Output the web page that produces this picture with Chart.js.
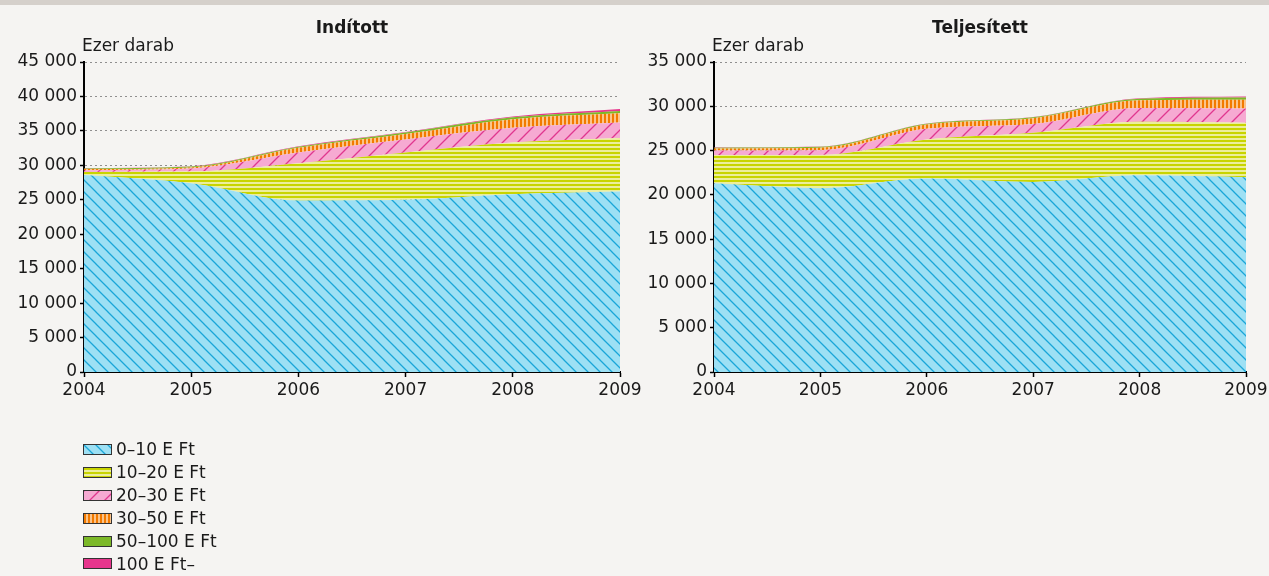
<!DOCTYPE html>
<html lang="hu">
<head>
<meta charset="utf-8">
<title>Indított és teljesített</title>
<script src="https://cdn.jsdelivr.net/npm/chart.js@4.4.1/dist/chart.umd.min.js"></script>
<style>
  html, body { margin: 0; padding: 0; }
  body {
    width: 1269px; height: 576px; position: relative; overflow: hidden;
    background: #f5f4f2; color: #1a1a1a;
    font-family: "DejaVu Sans", sans-serif;
  }
  .topband { position: absolute; left: 0; top: 0; width: 1269px; height: 5px; background: #d5d0cb; }
  canvas.chart { position: absolute; top: 0; }
  #chartStarted { left: 0; }
  #chartDone { left: 634px; }
  .legend { position: absolute; left: 83px; top: 438px; }
  .legend-item { display: flex; align-items: center; height: 22.9px; font-size: 17px; white-space: nowrap; }
  .legend-item canvas { border: 1px solid #333; margin-right: 4px; display: block; }
</style>
</head>
<body>
<div class="topband"></div>
<canvas id="chartStarted" class="chart" width="645" height="410"></canvas>
<canvas id="chartDone" class="chart" width="650" height="410"></canvas>
<div class="legend" id="legend"></div>

<script>
// ── Data ─────────────────────────────────────────────────────────────────────

const years = ['2004', '2005', '2006', '2007', '2008', '2009'];
const sizeBands = ['0–10 E Ft', '10–20 E Ft', '20–30 E Ft', '30–50 E Ft', '50–100 E Ft', '100 E Ft–'];

// Indított (ezer darab)
const startedUpTo10  = [28600, 27400, 24900, 25000, 25800, 26200];
const started10to20  = [450, 1700, 5400, 6850, 7500, 7750];
const started20to30  = [250, 450, 1550, 1900, 2150, 2250];
const started30to50  = [150, 150, 700, 800, 1250, 1350];
const started50to100 = [100, 120, 150, 230, 280, 350];
const startedOver100 = [50, 60, 80, 70, 100, 270];

// Teljesített (ezer darab)
const doneUpTo10  = [21300, 20750, 21850, 21450, 22200, 22000];
const done10to20  = [3200, 3750, 4400, 5550, 6050, 6150];
const done20to30  = [520, 550, 1200, 1000, 1550, 1600];
const done30to50  = [220, 270, 480, 650, 880, 1000];
const done50to100 = [90, 110, 100, 100, 180, 250];
const doneOver100 = [40, 40, 40, 40, 60, 100];

const startedMax = 45000;
const doneMax = 35000;
const tickStep = 5000;

// ── Fill patterns ────────────────────────────────────────────────────────────

function diagonalTile(size, bg, fg, rising) {
  const c = document.createElement('canvas');
  c.width = size; c.height = size;
  const g = c.getContext('2d');
  g.fillStyle = bg;
  g.fillRect(0, 0, size, size);
  g.strokeStyle = fg;
  g.lineWidth = 1.3;
  g.beginPath();
  if (rising) {
    g.moveTo(-1, size + 1); g.lineTo(size + 1, -1);
    g.moveTo(-1, 1); g.lineTo(1, -1);
    g.moveTo(size - 1, size + 1); g.lineTo(size + 1, size - 1);
  } else {
    g.moveTo(-1, -1); g.lineTo(size + 1, size + 1);
    g.moveTo(-1, size - 1); g.lineTo(1, size + 1);
    g.moveTo(size - 1, -1); g.lineTo(size + 1, 1);
  }
  g.stroke();
  return c;
}

function stripeTile(horizontal, dark, light) {
  const c = document.createElement('canvas');
  c.width = horizontal ? 1 : 4;
  c.height = horizontal ? 4 : 1;
  const g = c.getContext('2d');
  g.fillStyle = light;
  g.fillRect(0, 0, c.width, c.height);
  g.fillStyle = dark;
  if (horizontal) g.fillRect(0, 0, 1, 2);
  else g.fillRect(0, 0, 2, 1);
  return c;
}

function solidTile(color) {
  const c = document.createElement('canvas');
  c.width = 2; c.height = 2;
  const g = c.getContext('2d');
  g.fillStyle = color;
  g.fillRect(0, 0, 2, 2);
  return c;
}

const tiles = [
  diagonalTile(12, '#9de0f4', '#1aa6d8', false),
  stripeTile(true, '#c8d400', '#ecee9c'),
  diagonalTile(15, '#f6aad2', '#e0378f', true),
  stripeTile(false, '#f27a00', '#fbc48a'),
  solidTile('#7cb928'),
  solidTile('#e7368d')
];

function patternFor(i) {
  const g = document.createElement('canvas').getContext('2d');
  return g.createPattern(tiles[i], 'repeat');
}

// ── Charts ───────────────────────────────────────────────────────────────────

Chart.defaults.font.family = '"DejaVu Sans", sans-serif';
Chart.defaults.font.size = 17;
Chart.defaults.color = '#1a1a1a';

function fmtThousands(v) {
  return String(v).replace(/\B(?=(\d{3})+(?!\d))/g, ' ');
}

const headerPlugin = {
  id: 'header',
  afterDraw(chart, args, opts) {
    const { ctx, chartArea } = chart;
    ctx.save();
    ctx.fillStyle = '#1a1a1a';
    ctx.textBaseline = 'alphabetic';
    ctx.font = 'bold 17px "DejaVu Sans"';
    ctx.textAlign = 'center';
    ctx.fillText(opts.title, (chartArea.left + chartArea.right) / 2, 33);
    ctx.font = '17px "DejaVu Sans"';
    ctx.textAlign = 'left';
    ctx.fillText(opts.unit, chartArea.left - 2, 51);
    ctx.restore();
  }
};

function buildChart(canvasId, title, series, yMax, axisWidth, padRight) {
  return new Chart(document.getElementById(canvasId), {
    type: 'line',
    data: {
      labels: years,
      datasets: series.map((vals, i) => ({
        label: sizeBands[i],
        data: vals,
        backgroundColor: patternFor(i),
        borderWidth: 0,
        pointRadius: 0,
        fill: i === 0 ? 'origin' : '-1',
        cubicInterpolationMode: 'monotone'
      }))
    },
    options: {
      responsive: false,
      animation: false,
      devicePixelRatio: 1,
      layout: { padding: { top: 62, right: padRight, bottom: 0, left: 0 } },
      plugins: {
        legend: { display: false },
        tooltip: { enabled: false },
        header: { title, unit: 'Ezer darab' }
      },
      scales: {
        x: {
          grid: { drawOnChartArea: false, tickLength: 5, tickColor: '#000', tickWidth: 1.5 },
          border: { color: '#000', width: 2 },
          ticks: { padding: 3, maxRotation: 0, autoSkip: false },
          afterFit: s => { s.height = 38; }
        },
        y: {
          stacked: true,
          min: 0,
          max: yMax,
          ticks: { stepSize: tickStep, padding: 3, callback: fmtThousands },
          grid: { color: '#8f8f8f', lineWidth: 1, tickLength: 4, tickColor: '#000', tickWidth: 1.5, tickBorderDash: [10, 0] },
          border: { color: '#000', width: 2, dash: [2, 3] },
          afterFit: s => { s.width = axisWidth; }
        }
      }
    },
    plugins: [headerPlugin]
  });
}

buildChart('chartStarted', 'Indított',
  [startedUpTo10, started10to20, started20to30, started30to50, started50to100, startedOver100],
  startedMax, 84, 25);

buildChart('chartDone', 'Teljesített',
  [doneUpTo10, done10to20, done20to30, done30to50, done50to100, doneOver100],
  doneMax, 80, 38);

// ── Legend ───────────────────────────────────────────────────────────────────

const legendEl = document.getElementById('legend');
sizeBands.forEach((name, i) => {
  const row = document.createElement('div');
  row.className = 'legend-item';
  const sw = document.createElement('canvas');
  sw.width = 27; sw.height = 9;
  const g = sw.getContext('2d');
  g.fillStyle = g.createPattern(tiles[i], 'repeat');
  g.fillRect(0, 0, sw.width, sw.height);
  row.appendChild(sw);
  const label = document.createElement('span');
  label.textContent = name;
  row.appendChild(label);
  legendEl.appendChild(row);
});
</script>
</body>
</html>
